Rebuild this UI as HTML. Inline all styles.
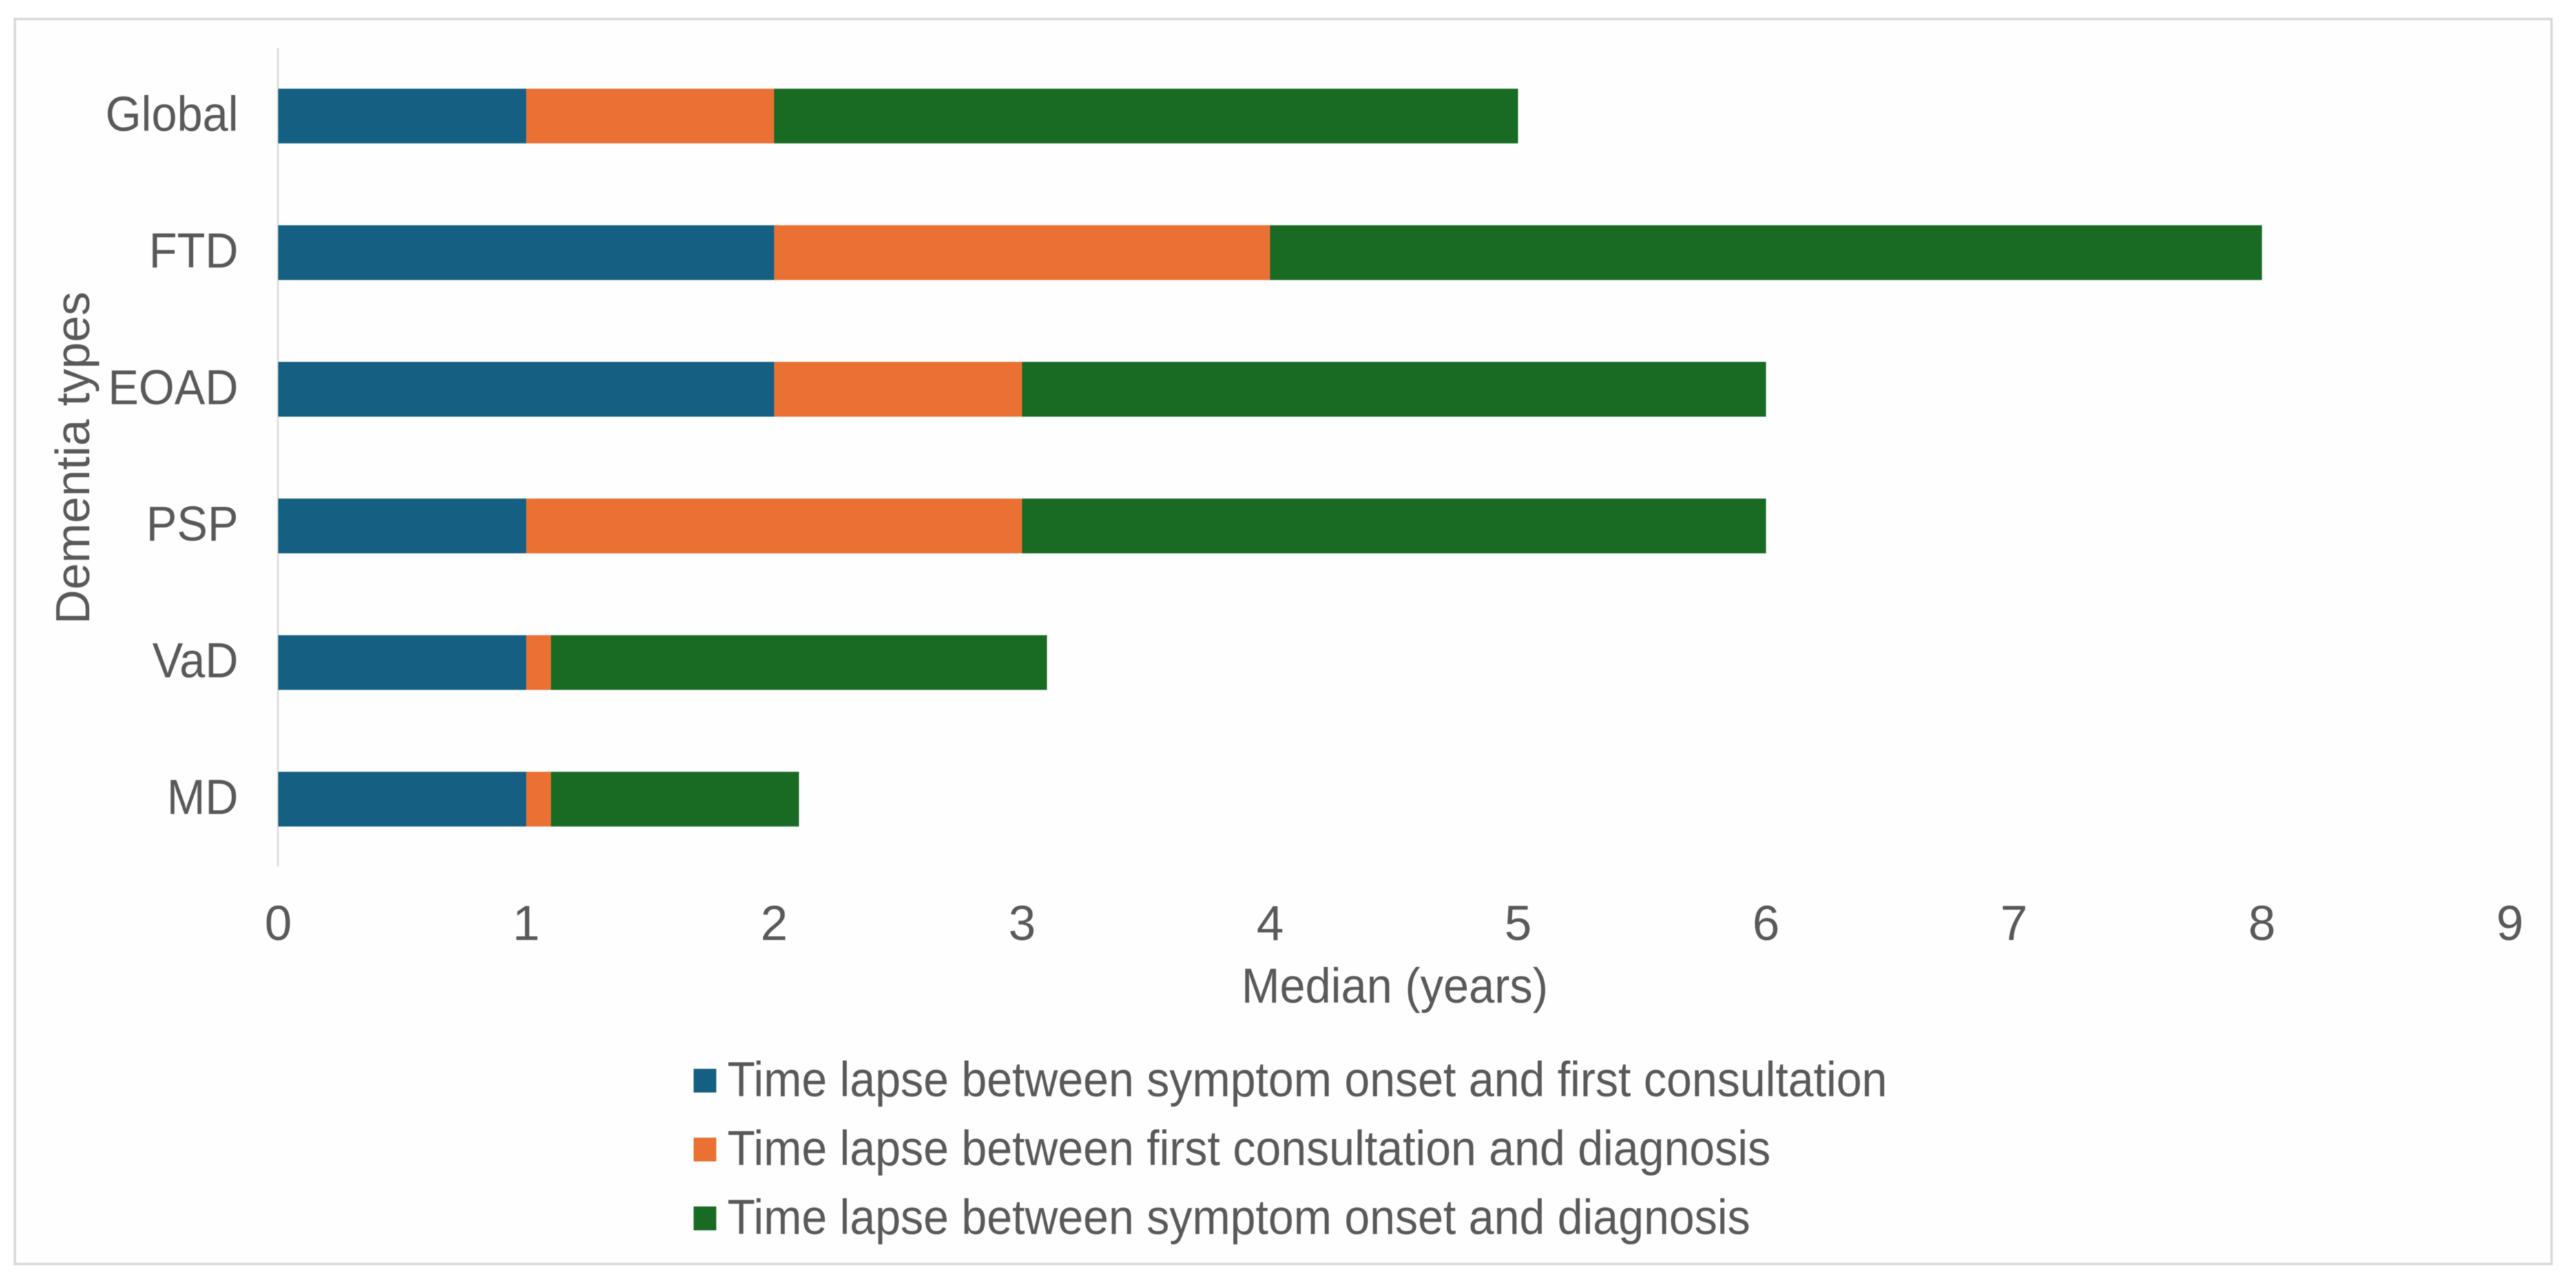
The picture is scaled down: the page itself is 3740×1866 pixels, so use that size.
<!DOCTYPE html>
<html lang="en">
<head>
<meta charset="utf-8">
<title>Median time lapse by dementia type</title>
<style>
html,body{margin:0;padding:0;background:#fff;width:3740px;height:1866px;overflow:hidden}
svg{display:block;filter:blur(0.6px)}
text{font-family:"Liberation Sans",sans-serif;fill:#595959;font-size:71px}
</style>
</head>
<body>
<svg id="chart" xmlns="http://www.w3.org/2000/svg" width="3740" height="1866" viewBox="0 0 3740 1866">
  <rect x="0" y="0" width="3740" height="1866" fill="#ffffff"/>
  <rect x="21.5" y="27.5" width="3683" height="1808" fill="#fefefe" stroke="#d9d9d9" stroke-width="3.5"/>
</svg>
<script>
const categories = ['Global', 'FTD', 'EOAD', 'PSP', 'VaD', 'MD'];
const onsetToConsultation = [1, 2, 2, 1, 1, 1];
const consultationToDiagnosis = [1, 2, 1, 2, 0.1, 0.1];
const onsetToDiagnosis = [3, 4, 3, 3, 2, 1];
const xTicks = [0, 1, 2, 3, 4, 5, 6, 7, 8, 9];
const seriesLabels = [
  'Time lapse between symptom onset and first consultation',
  'Time lapse between first consultation and diagnosis',
  'Time lapse between symptom onset and diagnosis'
];
const seriesValues = [onsetToConsultation, consultationToDiagnosis, onsetToDiagnosis];
const seriesColors = ['#156082', '#ea7133', '#196b24'];

const svg = document.getElementById('chart');
const NS = 'http://www.w3.org/2000/svg';
const plotLeft = 404, unitWidth = 360, firstCenter = 168.5, bandStep = 198.4, barHeight = 79.5;
const xScale = v => plotLeft + v * unitWidth;
const yCenter = i => firstCenter + i * bandStep;

function make(tag, props) {
  const el = document.createElementNS(NS, tag);
  for (const k in props) el.setAttribute(k, props[k]);
  svg.appendChild(el);
  return el;
}
function squeeze(el, factor) {
  el.setAttribute('textLength', (el.getComputedTextLength() * factor).toFixed(1));
  el.setAttribute('lengthAdjust', 'spacingAndGlyphs');
}

const axisLine = make('line', {x1: plotLeft - 0.5, x2: plotLeft - 0.5, y1: 70, y2: 1258, stroke: '#d9d9d9', 'stroke-width': 2.5});



categories.forEach((name, i) => {
  let cumulative = 0;
  seriesValues.forEach((values, s) => {
    const start = cumulative;
    cumulative += values[i];
    const bar = make('rect', {
      x: xScale(start),
      y: yCenter(i) - barHeight / 2,
      width: xScale(cumulative) - xScale(start),
      height: barHeight,
      fill: seriesColors[s]
    });
    
    
  });
  const label = make('text', {x: 346, y: yCenter(i) + 21.5, 'text-anchor': 'end'});
  label.textContent = name;
  
  
  squeeze(label, 0.94);
});

xTicks.forEach(t => {
  const tick = make('text', {x: xScale(t), y: 1365, 'text-anchor': 'middle'});
  tick.textContent = String(t);
  
  
});

const xTitle = make('text', {x: 2025, y: 1456, 'text-anchor': 'middle'});
xTitle.textContent = 'Median (years)';


squeeze(xTitle, 0.94);

const yTitle = make('text', {x: 0, y: 0, 'text-anchor': 'middle', transform: 'translate(129.5 665) rotate(-90)', style: 'font-size:70px'});
yTitle.textContent = 'Dementia types';


squeeze(yTitle, 0.993);

seriesLabels.forEach((text, s) => {
  const swatch = make('rect', {x: 1007, y: 1552 + s * 100, width: 33, height: 34.5, fill: seriesColors[s]});
  
  
  const label = make('text', {x: 1056, y: 1592 + s * 100});
  label.textContent = text;
  
  
  squeeze(label, 0.933);
});
</script>
</body>
</html>
